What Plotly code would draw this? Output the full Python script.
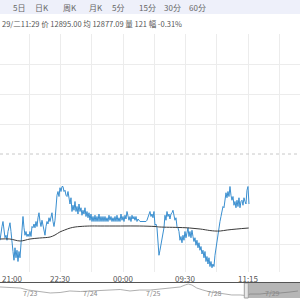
import plotly.graph_objects as go

W, H = 300, 300

# ---------------- data ----------------
prev_close = 12935
tabs = ["5日", "日K", "周K", "月K", "5分", "15分", "30分", "60分"]
tab_pos = [19, 42, 70, 96, 118, 147, 172, 197]          # px centres of tab captions
info_text = "29/二11:29 价 12895.00 均 12877.09 量 121 幅 -0.31%"

# minute price (sampled every ~1.44 trading minutes from 21:00)
price = [12866, 12873, 12877, 12881, 12873, 12868, 12870, 12866, 12873, 12877,
         12880, 12873, 12862, 12857, 12850, 12860, 12852, 12858, 12849, 12857,
         12852, 12866, 12878, 12885, 12876, 12870, 12873, 12869, 12871, 12869,
         12873, 12869, 12877, 12876, 12879, 12876, 12881, 12877, 12884, 12888,
         12881, 12877, 12882, 12877, 12873, 12870, 12877, 12881, 12879, 12884,
         12881, 12886, 12888, 12881, 12877, 12882, 12894, 12902, 12905, 12901,
         12908, 12905, 12909, 12909, 12905, 12906, 12902, 12901, 12905, 12898,
         12895, 12900, 12889, 12894, 12890, 12897, 12889, 12893, 12887, 12895,
         12889, 12892, 12886, 12890, 12887, 12892, 12885, 12889, 12884, 12888,
         12882, 12887, 12881, 12885, 12881, 12886, 12881, 12885, 12881, 12887,
         12881, 12885, 12881, 12885, 12881, 12885, 12881, 12884, 12881, 12886,
         12882, 12885, 12881, 12884, 12881, 12885, 12881, 12886, 12881, 12884,
         12881, 12887, 12882, 12885, 12881, 12886, 12883, 12889, 12884, 12882,
         12885, 12881, 12886, 12883, 12885, 12882, 12885, 12881, 12883, 12882,
         12881, 12881, 12881, 12881, 12881, 12881, 12881, 12882, 12884, 12887,
         12889, 12885, 12887, 12884, 12889, 12878, 12879, 12876, 12862, 12854,
         12858, 12862, 12866, 12873, 12876, 12886, 12882, 12889, 12885, 12887,
         12883, 12887, 12888, 12890, 12885, 12882, 12884, 12877, 12876, 12873,
         12866, 12869, 12864, 12870, 12866, 12873, 12868, 12874, 12876, 12869,
         12873, 12868, 12874, 12869, 12865, 12868, 12862, 12866, 12860, 12864,
         12858, 12861, 12855, 12858, 12852, 12857, 12849, 12853, 12847, 12852,
         12845, 12849, 12844, 12847, 12845, 12854, 12860, 12863, 12868, 12877,
         12881, 12885, 12889, 12893, 12892, 12898, 12904, 12900, 12905, 12901,
         12909, 12902, 12898, 12901, 12894, 12897, 12892, 12898, 12893, 12900,
         12892, 12897, 12898, 12894, 12900, 12897, 12895, 12906, 12909, 12895]
start_min = 2.8
step_min = 1.44

# average price line
avg_min = [3, 17, 32, 46, 60, 75, 82, 89, 96, 104, 111, 118, 132, 147, 176,
           204, 226, 233, 262, 276, 291, 305, 312, 320, 330, 344, 361]
avg_val = [12867, 12867, 12865.4, 12867, 12867.8, 12868.6, 12870.2, 12872.6,
           12874.2, 12875.8, 12876.6, 12877, 12877.4, 12877.4, 12877.4, 12877.4,
           12877, 12876.6, 12876.2, 12875.8, 12875, 12873.8, 12873.4, 12873.4,
           12874.2, 12875, 12875.8]

# x axis: trading minutes from 21:00
grid_min = [45, 90, 135, 180, 225, 270, 315, 360, 405]
label_min = [0, 90, 180, 270, 360, 450]
label_txt = ["21:00", "22:30", "00:00", "09:30", "11:15", "14:45"]
grid_price = [12863, 12887, 12911, 12959, 12983, 13007]

# navigator (5 days)
nav_day = [0, 0.16, 0.33, 0.46, 0.57, 0.69, 0.82, 0.98, 1.14, 1.31, 1.47, 1.63,
           1.79, 1.96, 2.12, 2.28, 2.45, 2.61, 2.77, 2.94, 3.02, 3.07, 3.13,
           3.21, 3.31, 3.43, 3.56, 3.67, 3.78, 3.92, 4.01, 4.08, 4.24, 4.40,
           4.57, 4.73, 4.86]
nav_val = [13088, 13075, 13062, 13012, 12988, 12962, 12938, 12950, 12988, 12975,
           12988, 13012, 13012, 13025, 12988, 13012, 13012, 13038, 13050, 13088,
           13138, 13162, 13138, 13062, 13012, 12962, 12938, 12912, 12888, 12888,
           12875, 12912, 12912, 12938, 12938, 12962, 12988]
nav_dates = ["7/23", "7/24", "7/25", "7/28", "7/29"]
nav_date_pos = [0.49, 1.47, 2.5, 3.5, 4.44]
sel_start_day = 4.01

# ---------------- layout helpers ----------------
def py(px):
    return 1 - px / H

PX_PER_MIN = 0.6944
X0_PX = -1.95
xr = [(0 - X0_PX) / PX_PER_MIN, (W - X0_PX) / PX_PER_MIN]
PRICE_PER_PX = 0.8
yr = [prev_close - (272 - 154) * PRICE_PER_PX, prev_close + (154 - 34) * PRICE_PER_PX]
NAV_DAY_PX = 61.3

minutes = [start_min + i * step_min for i in range(len(price))]

fig = go.Figure()
fig.add_trace(go.Scatter(x=minutes, y=price, mode="lines",
                         line=dict(color="#3a8fd0", width=1), hoverinfo="skip"))
fig.add_trace(go.Scatter(x=avg_min, y=avg_val, mode="lines", line_shape="spline",
                         line=dict(color="#3a3a3a", width=1), hoverinfo="skip"))
fig.add_trace(go.Scatter(x=nav_day, y=nav_val, mode="lines", xaxis="x2", yaxis="y2",
                         line=dict(color="#9a9a9a", width=0.8), hoverinfo="skip"))

font = "Noto Sans CJK SC"
ann = []
for t, p in zip(tabs, tab_pos):
    ann.append(dict(x=p / W, y=py(7.5), xref="paper", yref="paper", text=t,
                    showarrow=False, font=dict(family=font, size=8, color="#666666"),
                    xanchor="center", yanchor="middle"))
ann.append(dict(x=0, y=py(23), xref="paper", yref="paper", text=info_text,
                showarrow=False, font=dict(family=font, size=7.5, color="#555555"),
                xanchor="left", yanchor="middle"))
for m, t in zip(label_min, label_txt):
    ann.append(dict(x=max(m, xr[0]), y=py(278), xref="x", yref="paper", text=t,
                    showarrow=False, font=dict(family=font, size=8, color="#555555"),
                    xanchor="left" if m < xr[0] else "center", yanchor="middle"))
for d, t in zip(nav_date_pos, nav_dates):
    ann.append(dict(x=d, y=py(292.5), xref="x2", yref="paper", text=t,
                    showarrow=False, font=dict(family=font, size=7, color="#888888"),
                    xanchor="center", yanchor="middle"))

shapes = [
    dict(type="rect", xref="paper", yref="paper", x0=0, x1=1, y0=py(14), y1=1,
         fillcolor="#eef0fa", line=dict(width=0), layer="below"),
    dict(type="line", xref="paper", yref="y", x0=0, x1=1, y0=prev_close, y1=prev_close,
         line=dict(color="#c8c8c8", width=1, dash="3px,3px")),
    dict(type="rect", xref="x2", yref="paper", x0=sel_start_day, x1=5.2,
         y0=py(298), y1=py(283), fillcolor="rgba(110,110,110,0.5)", line=dict(width=0)),
    dict(type="rect", xref="x2", yref="paper", x0=sel_start_day - 1.5 / NAV_DAY_PX,
         x1=sel_start_day + 2.5 / NAV_DAY_PX, y0=py(298), y1=py(283),
         fillcolor="#e8e8e8", line=dict(color="#a0a0a0", width=1)),
    dict(type="line", xref="paper", yref="paper", x0=0, x1=1, y0=py(282.5), y1=py(282.5),
         line=dict(color="#555555", width=1)),
]

fig.update_layout(
    width=W, height=H, margin=dict(l=0, r=0, t=0, b=0, pad=0),
    paper_bgcolor="white", plot_bgcolor="white", showlegend=False,
    xaxis=dict(domain=[0, 1], range=xr, tickvals=grid_min, showticklabels=False,
               showgrid=True, gridcolor="#ececec", gridwidth=1, zeroline=False,
               showline=False, ticks=""),
    yaxis=dict(domain=[py(272), py(34)], range=yr, tickvals=grid_price,
               showticklabels=False, showgrid=True, gridcolor="#ececec", gridwidth=1,
               zeroline=False, showline=False, ticks=""),
    xaxis2=dict(domain=[0, 1], range=[0, W / NAV_DAY_PX], anchor="y2", visible=False),
    yaxis2=dict(domain=[py(298), py(283)], range=[12812.5, 13187.5], anchor="x2",
                visible=False),
    annotations=ann, shapes=shapes,
)
fig.write_html("out.html")
